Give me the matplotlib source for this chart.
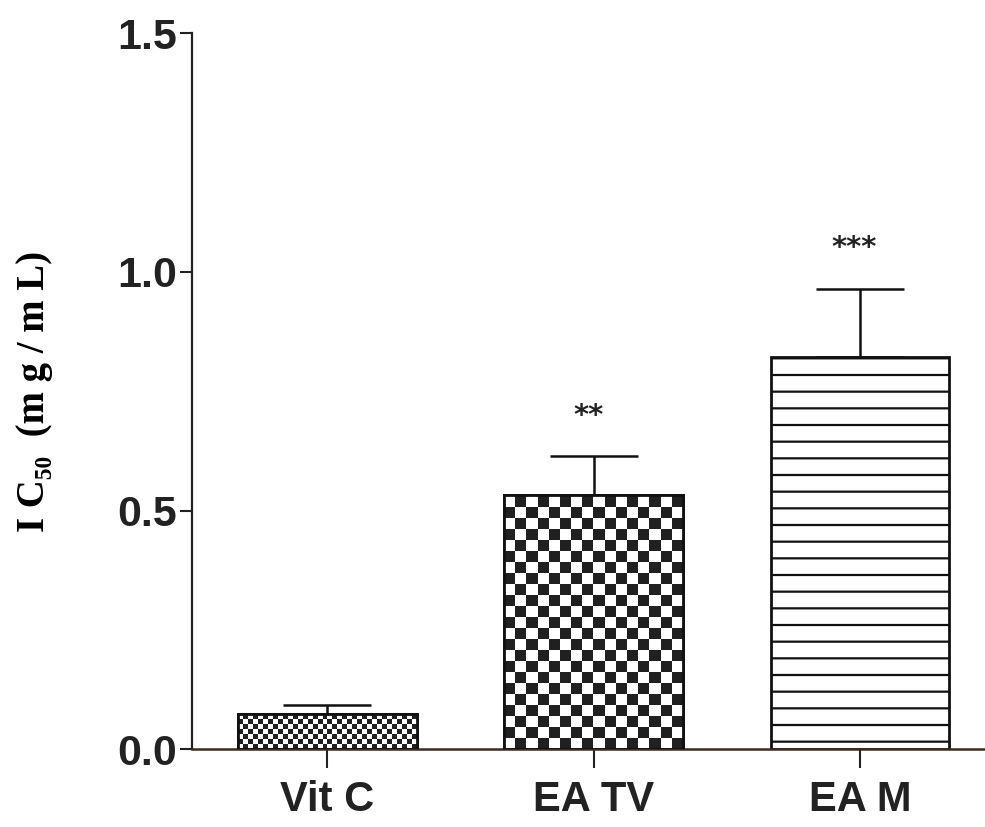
import numpy as np
import matplotlib
matplotlib.use('Agg')
import matplotlib.pyplot as plt

# data
groups = ['Vit C', 'EA TV', 'EA M']
ic50 = [0.073, 0.533, 0.822]
sem = [0.019, 0.081, 0.142]
stars = ['', '**', '***']

plt.rcParams['hatch.linewidth'] = 1.6
plt.rcParams['hatch.color'] = '#111111'

fig = plt.figure(figsize=(9.85, 8.27), dpi=100)
ax = fig.add_axes([0.195, 0.094, 0.805, 0.866])

x = np.arange(len(groups))
width = 0.67
ax.set_xlim(-0.508, 2.47)
ax.set_ylim(0, 1.5)

bars = ax.bar(x, ic50, width=width, color='white', edgecolor='#111111',
              linewidth=2, zorder=2)
bars[2].set_hatch('-')

# checkerboard fills (cell size in pixels), clipped to the bars
ax_w_px = 0.805 * 985
ax_h_px = 0.866 * 827
px_x = ax_w_px / (2.47 + 0.508)
px_y = ax_h_px / 1.5
for i, cell in [(0, 5.0), (1, 11.0)]:
    b = bars[i]
    nx = max(1, int(round(width * px_x / cell)))
    ny = max(1, int(round(ic50[i] * px_y / cell)))
    yy, xx = np.indices((ny, nx))
    board = (xx + yy) % 2
    im = ax.imshow(board, cmap='gray_r', vmin=0, vmax=1.15,
                   extent=[x[i] - width / 2, x[i] + width / 2, 0, ny * cell / px_y],
                   origin='lower', interpolation='nearest', aspect='auto', zorder=2.5)
    im.set_clip_path(b)
    ax.bar(x[i], ic50[i], width=width, color='none', edgecolor='#111111',
           linewidth=2, zorder=3)

ax.errorbar(x, ic50, yerr=[np.zeros(len(sem)), sem], fmt='none', ecolor='#111111',
            elinewidth=1.8, capsize=32, capthick=1.8, zorder=1)

for xi, v, e, s in zip(x, ic50, sem, stars):
    if s:
        ax.text(xi - 0.02, v + e + 0.085, s, ha='center', va='center',
                fontsize=21, fontweight='bold', color='#222222')

for side in ['top', 'right']:
    ax.spines[side].set_visible(False)
ax.spines['left'].set_linewidth(1.6)
ax.spines['bottom'].set_linewidth(1.8)
ax.spines['left'].set_color('#222222')
ax.spines['bottom'].set_color('#3a2a22')

ax.set_yticks([0.0, 0.5, 1.0, 1.5])
ax.set_yticklabels(['0.0', '0.5', '1.0', '1.5'], fontsize=31, fontweight='bold',
                   family=['Liberation Sans', 'DejaVu Sans'])
ax.set_xticks(x)
ax.set_xticklabels(groups, fontsize=30, fontweight='bold',
                   family=['Liberation Sans', 'DejaVu Sans'])
ax.tick_params(axis='y', length=9, width=1.5, pad=2, colors='#222222')
ax.tick_params(axis='x', length=14, width=1.5, pad=8, colors='#222222')

ax.set_ylabel('I C\u2085\u2080  (m g / m L)', fontsize=28, fontweight='bold',
              family=['Liberation Serif', 'DejaVu Serif'], labelpad=46)

fig.savefig('out.png', dpi=100)
